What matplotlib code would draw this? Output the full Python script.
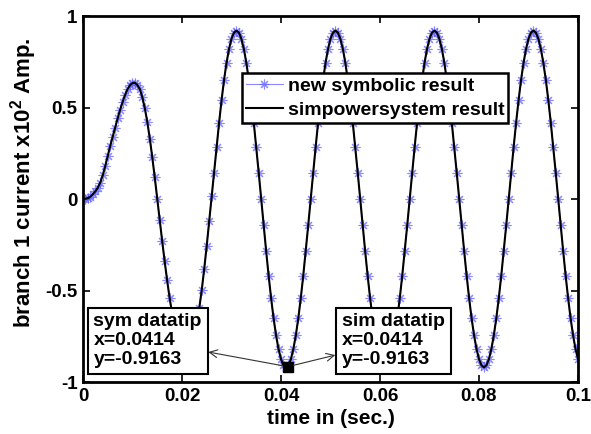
import numpy as np
import matplotlib
matplotlib.use('Agg')
import matplotlib.pyplot as plt

# time axis (0 .. 0.1 s, step 0.5 ms)
time = np.linspace(0, 0.1, 201)

# branch current (x10^2 A)
current = [
    0.000, 0.001, 0.005, 0.013, 0.026, 0.042, 0.062, 0.090, 0.130, 0.180,
    0.235, 0.290, 0.340, 0.390, 0.440, 0.487, 0.530, 0.568, 0.600, 0.622,
    0.634, 0.635, 0.622, 0.600, 0.555, 0.495, 0.420, 0.330, 0.228, 0.118,
    0.002, -0.115, -0.230, -0.340, -0.445, -0.540, -0.625, -0.700, -0.760, -0.808,
    -0.840, -0.858, -0.855, -0.835, -0.800, -0.750, -0.680, -0.595, -0.495, -0.380,
    -0.255, -0.120, 0.015,
    0.144, 0.284, 0.418, 0.541, 0.651, 0.744, 0.820, 0.875, 0.909, 0.920,
    0.909, 0.875, 0.820, 0.744, 0.651, 0.541, 0.418, 0.284, 0.144, 0.000,
    -0.144, -0.284, -0.418, -0.541, -0.651, -0.744, -0.820, -0.875, -0.909,
    -0.916, -0.909, -0.875, -0.820, -0.744, -0.651, -0.541, -0.418, -0.284, -0.144,
    0.000, 0.144, 0.284, 0.418, 0.541, 0.651, 0.744, 0.820, 0.875, 0.909,
    0.920, 0.909, 0.875, 0.820, 0.744, 0.651, 0.541, 0.418, 0.284, 0.144,
    0.000, -0.144, -0.284, -0.418, -0.541, -0.651, -0.744, -0.820, -0.875, -0.909,
    -0.920, -0.909, -0.875, -0.820, -0.744, -0.651, -0.541, -0.418, -0.284, -0.144,
    0.000, 0.144, 0.284, 0.418, 0.541, 0.651, 0.744, 0.820, 0.875, 0.909,
    0.920, 0.909, 0.875, 0.820, 0.744, 0.651, 0.541, 0.418, 0.284, 0.144,
    0.000, -0.144, -0.284, -0.418, -0.541, -0.651, -0.744, -0.820, -0.875, -0.909,
    -0.920, -0.909, -0.875, -0.820, -0.744, -0.651, -0.541, -0.418, -0.284, -0.144,
    0.000, 0.144, 0.284, 0.418, 0.541, 0.651, 0.744, 0.820, 0.875, 0.909,
    0.920, 0.909, 0.875, 0.820, 0.744, 0.651, 0.541, 0.418, 0.284, 0.144,
    0.000, -0.144, -0.284, -0.418, -0.541, -0.651, -0.744, -0.820, -0.875,
]
sym_current = current
sim_current = current

xticks = [0, 0.02, 0.04, 0.06, 0.08, 0.1]
xticklabels = ['0', '0.02', '0.04', '0.06', '0.08', '0.1']
yticks = [-1, -0.5, 0, 0.5, 1]
yticklabels = ['-1', '-0.5', '0', '0.5', '1']

# datatip
tip_x = 0.0414
tip_y = -0.9163

plt.rcParams['font.family'] = ['Liberation Sans', 'DejaVu Sans']
plt.rcParams['font.weight'] = 'bold'
plt.rcParams['mathtext.fontset'] = 'custom'
plt.rcParams['mathtext.bf'] = 'Liberation Sans:bold'
plt.rcParams['mathtext.rm'] = 'Liberation Sans:bold'

fig = plt.figure(figsize=(5.91, 4.34), dpi=100)
ax = fig.add_axes([0.1404, 0.1198, 0.8376, 0.8433])

ax.plot(time, sym_current, color='#6464ff', lw=0.8, marker=(8, 2, 0),
        markersize=7, markeredgewidth=0.8, alpha=0.75,
        label='new symbolic result')
ax.plot(time, sim_current, color='black', lw=1.5, label='simpowersystem result')

ax.set_xlim(0, 0.1)
ax.set_ylim(-1, 1)
ax.set_xticks(xticks)
ax.set_xticklabels(xticklabels)
ax.set_yticks(yticks)
ax.set_yticklabels(yticklabels)
ax.tick_params(direction='in', length=5, width=1.2, labelsize=13.5,
               top=True, right=True, pad=4)
for s in ax.spines.values():
    s.set_linewidth(2)

ax.set_xlabel('time in (sec.)', fontsize=15, fontweight='bold', labelpad=3)
ax.set_ylabel(r'branch 1 current x10$^{2}$ Amp.', fontsize=16,
              fontweight='bold')
ax.yaxis.set_label_coords(-0.088, 0.544)

leg = ax.legend(loc='upper right', bbox_to_anchor=(0.859, 0.844),
                borderaxespad=0, fancybox=False, framealpha=1,
                edgecolor='black', fontsize=14, handlelength=1.9,
                borderpad=0.2, labelspacing=0.35, handletextpad=0.25)
leg.get_frame().set_linewidth(1.8)

# datatip marker and boxes
ax.plot([tip_x], [tip_y], 's', color='black', markersize=7, zorder=5)
box = dict(boxstyle='square,pad=0.3', fc='white', ec='black', lw=1.5)
arrow = dict(arrowstyle='<-', color='#333333', lw=0.8, shrinkA=0, shrinkB=4)
ax.annotate('sym datatip\nx=%.4f\ny=%.4f' % (tip_x, tip_y), xy=(tip_x, tip_y),
            xytext=(0.0021, -0.625), textcoords='data', ha='left', va='top',
            fontsize=14, fontweight='bold', bbox=box, arrowprops=arrow,
            linespacing=1.15, zorder=6)
ax.annotate('sim datatip\nx=%.4f\ny=%.4f' % (tip_x, tip_y), xy=(tip_x, tip_y),
            xytext=(0.0523, -0.625), textcoords='data', ha='left', va='top',
            fontsize=14, fontweight='bold', bbox=box, arrowprops=arrow,
            linespacing=1.15, zorder=6)

fig.savefig('out.png', dpi=100)
